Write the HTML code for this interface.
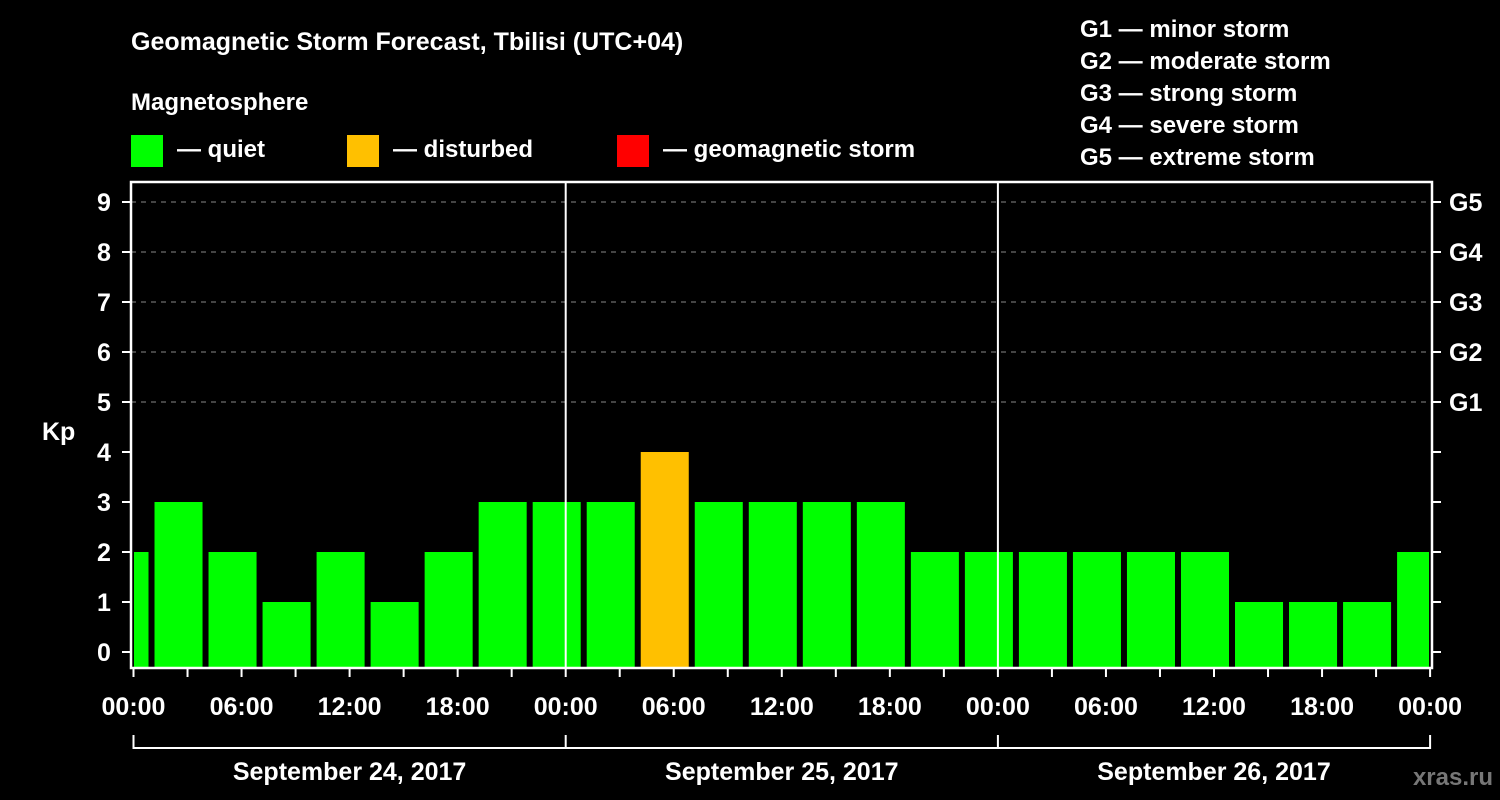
<!DOCTYPE html>
<html><head><meta charset="utf-8"><style>
body{margin:0;background:#000;width:1500px;height:800px;overflow:hidden}
svg{display:block}
text{font-family:"Liberation Sans",Arial,sans-serif;font-weight:bold;fill:#fff}
</style></head><body>
<svg id="chart" width="1500" height="800">
<text x="131" y="50" font-size="25">Geomagnetic Storm Forecast, Tbilisi (UTC+04)</text>
<text x="131" y="110" font-size="24">Magnetosphere</text>
<g><rect x="131" y="135" width="32" height="32" fill="#00ff00"/><text x="177" y="157" font-size="24">— quiet</text></g>
<g><rect x="347" y="135" width="32" height="32" fill="#ffc000"/><text x="393" y="157" font-size="24">— disturbed</text></g>
<g><rect x="617" y="135" width="32" height="32" fill="#ff0000"/><text x="663" y="157" font-size="24">— geomagnetic storm</text></g>
<g font-size="24">
<text x="1080" y="37">G1 — minor storm</text>
<text x="1080" y="69">G2 — moderate storm</text>
<text x="1080" y="101">G3 — strong storm</text>
<text x="1080" y="133">G4 — severe storm</text>
<text x="1080" y="165">G5 — extreme storm</text>
</g>
<text x="42" y="440" font-size="25">Kp</text>
<text x="1493" y="785" font-size="24" text-anchor="end" style="fill:#777">xras.ru</text>
<g id="plot"></g>
</svg>
<script>
const kpValues=[2,3,2,1,2,1,2,3,3,3,4,3,3,3,3,2,2,2,2,2,2,1,1,1,2];
const dayLabels=["September 24, 2017","September 25, 2017","September 26, 2017"];
const hourLabels=["00:00","06:00","12:00","18:00"];
const gLabels=["G1","G2","G3","G4","G5"];
const NS="http://www.w3.org/2000/svg";
const plot=document.getElementById('plot');
const L=131,R=1432,T=182,B=668,x0=133.5,dayW=432.2;
const xs=h=>x0+h*dayW/24;
const ys=v=>652-v*50;
function el(tag,attrs,txt){const e=document.createElementNS(NS,tag);for(const k in attrs)e.setAttribute(k,attrs[k]);if(txt!==undefined)e.textContent=txt;plot.appendChild(e);return e;}
// grid
for(let v=5;v<=9;v++){const g=el('line',{x1:L,x2:R,y1:ys(v),y2:ys(v),stroke:'#888','stroke-width':1,'stroke-dasharray':'5,5'});

}
// bars
kpValues.forEach((v,i)=>{
 const h0=-2+3*i,h1=h0+3;
 let a=xs(h0)+3,b=xs(h1)-3;
 a=Math.max(a,L+3);b=Math.min(b,R-3);
 const c=v>=5?'#ff0000':(v>=4?'#ffc000':'#00ff00');
 const r=el('rect',{x:a,y:ys(v),width:b-a,height:B-ys(v),fill:c});
 
 
});
// day separators
for(let d=1;d<3;d++){const l=el('line',{x1:xs(24*d),x2:xs(24*d),y1:T,y2:B,stroke:'#fff','stroke-width':2});

}
// frame
const f=el('rect',{x:L,y:T,width:R-L,height:B-T,fill:'none',stroke:'#fff','stroke-width':2.5});


// y ticks
for(let v=0;v<=9;v++){
 el('line',{x1:122,x2:L,y1:ys(v),y2:ys(v),stroke:'#fff','stroke-width':2});
 el('line',{x1:R,x2:1441,y1:ys(v),y2:ys(v),stroke:'#fff','stroke-width':2});
 const t=el('text',{x:104,y:ys(v)+9,'font-size':25,'text-anchor':'middle'},String(v));
 
 
}
gLabels.forEach((g,i)=>{const t=el('text',{x:1449,y:ys(5+i)+9,'font-size':25},g);

});
// x ticks
for(let h=0;h<=72;h+=3){el('line',{x1:xs(h),x2:xs(h),y1:B,y2:B+(h%6===0?9:9),stroke:'#fff','stroke-width':2});}
for(let h=0;h<=72;h+=6){const t=el('text',{x:xs(h),y:715,'font-size':25,'text-anchor':'middle'},hourLabels[(h/6)%4]);

}
// day brackets
el('line',{x1:xs(0),x2:xs(72),y1:748,y2:748,stroke:'#fff','stroke-width':2});
for(let d=0;d<=3;d++)el('line',{x1:xs(24*d),x2:xs(24*d),y1:735,y2:749,stroke:'#fff','stroke-width':2});
dayLabels.forEach((s,d)=>{const t=el('text',{x:xs(24*d+12),y:780,'font-size':25,'text-anchor':'middle'},s);

});
</script>
</body></html>
